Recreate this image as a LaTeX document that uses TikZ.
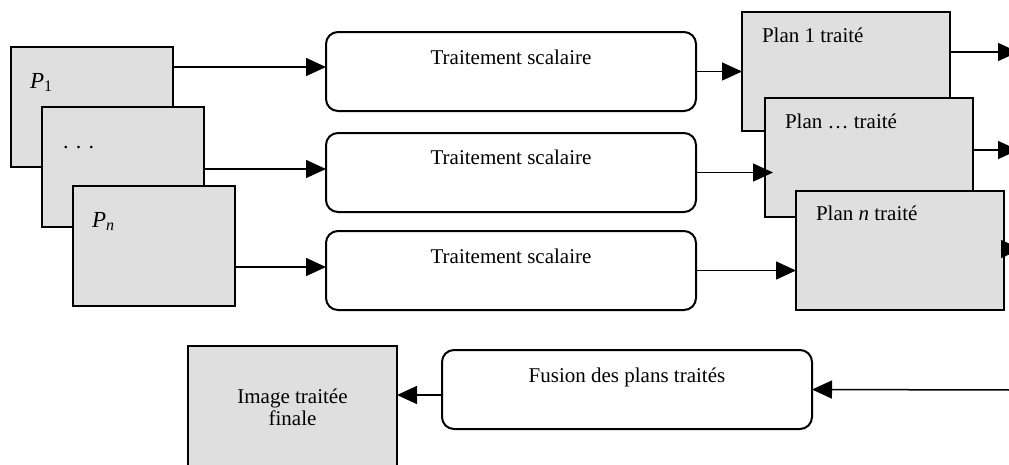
\documentclass[tikz,border=0pt]{standalone}
\usepackage{fontspec}
\setmainfont{Liberation Serif}
\usetikzlibrary{arrows.meta}
\begin{document}
\begin{tikzpicture}[x=1pt, y=-1pt, every node/.style={inner sep=0pt, outer sep=0pt}]
	\tikzset{
		plane/.style={draw, line width=2pt, fill=gray!25, anchor=north west, minimum width=162pt, minimum height=120pt},
		plan/.style={plane, minimum width=208pt, minimum height=119pt},
		proc/.style={draw, line width=2pt, rounded corners=12pt, fill=white, anchor=north west, minimum width=370pt, minimum height=79pt},
		txt/.style={font=\fontsize{21}{22}\selectfont},
		arr/.style={line width=1.5pt, -{Triangle[length=20pt, width=18pt]}}
	}
	\useasboundingbox (0,0) rectangle (1009,464);
	\clip (0,0) rectangle (1009,464);
	\node[plane] (P1) at (11,47)  {};
	\node[txt, anchor=base west] (P1t) at (30,88) {{\fontsize{23}{23}\selectfont\itshape P}\raisebox{-3pt}{\fontsize{16}{16}\selectfont 1}};
	\node[plane] (Pd) at (42,107) {};
	\node[txt, anchor=base west, font=\fontsize{22}{22}\selectfont] (Pdt) at (63,148) {. . .};
	\node[plane] (Pn) at (73,186) {};
	\node[txt, anchor=base west] (Pnt) at (92,227) {{\fontsize{23}{23}\selectfont\itshape P}\raisebox{-3pt}{\fontsize{16}{16}\selectfont\itshape n}};
	\node[proc] (T1) at (326,32)  {};
	\node[txt, anchor=base] (T1t) at (511,64)  {Traitement scalaire};
	\node[proc] (T2) at (326,133) {};
	\node[txt, anchor=base] (T2t) at (511,164) {Traitement scalaire};
	\node[proc] (T3) at (326,231) {};
	\node[txt, anchor=base] (T3t) at (511,263) {Traitement scalaire};
	\node[plan] (L1) at (742,12)  {};
	\node[txt, anchor=base west] (L1t) at (762,42)  {Plan 1 traité};
	\node[plan] (L2) at (765,98)  {};
	\node[txt, anchor=base west] (L2t) at (785,128) {Plan … traité};
	\node[plan] (L3) at (796,191) {};
	\node[txt, anchor=base west] (L3t) at (816,220) {Plan \textit{n} traité};
	\node[plane, minimum width=209pt] (Img) at (188,346) {};
	\node[txt, align=center] (Imgt) at (292.5,407) {Image traitée\\finale};
	\node[proc] (F) at (442,350) {};
	\node[txt, anchor=base] (Ft) at (627,382) {Fusion des plans traités};
	\coordinate (T1in) at (326,67);
	\coordinate (T2in) at (326,169);
	\coordinate (T3in) at (326,267);
	\coordinate (L2in) at (773,172.5);
	\coordinate (o1) at (1018,52);
	\coordinate (o2) at (1018,150);
	\coordinate (o3) at (1021,249);
	\coordinate (fin) at (1012,390);
	\coordinate (Fout) at (397,395);
	\foreach \from/\to in {
		P1/T1in, Pd/T2in, Pn/T3in,
		L1/o1, L2/o2, L3/o3}
	\draw[arr] (\from.east |- \to) -- (\to);
	\foreach \from/\to in {T1/L1, T3/L3}
	\draw[arr] (\from.east) -- (\to.west |- \from.east);
	\draw[arr] (T2.east) -- (L2in);
	\draw[arr] (fin) -- (F.east);
	\draw[arr] (F.west |- Fout) -- (Img.east |- Fout);
\end{tikzpicture}
\end{document}
